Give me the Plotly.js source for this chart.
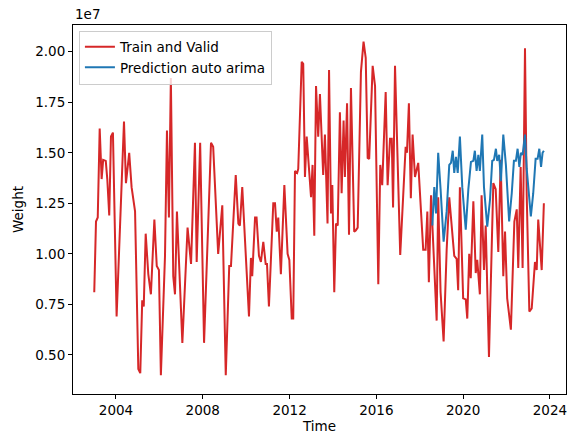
<!DOCTYPE html>
<html>
<head>
<meta charset="utf-8">
<script src="https://cdn.plot.ly/plotly-3.0.1.min.js"></script>
<style>html,body{margin:0;padding:0;background:#fff;}#chart{width:573px;height:435px;}</style>
</head>
<body>
<div id="chart"></div>
<script>
// Time in decimal years, Weight in units of 1e7
const trainTime = [2003.00,2003.08,2003.16,2003.25,2003.34,2003.41,2003.53,2003.60,2003.69,2003.77,2003.86,2004.03,2004.37,2004.46,2004.61,2004.72,2004.88,2005.03,2005.12,2005.21,2005.28,2005.37,2005.49,2005.61,2005.77,2005.88,2005.98,2006.07,2006.26,2006.35,2006.44,2006.53,2006.64,2006.72,2006.81,2007.06,2007.30,2007.46,2007.64,2007.72,2007.88,2008.06,2008.38,2008.48,2008.71,2008.90,2009.06,2009.22,2009.30,2009.52,2009.64,2009.71,2009.82,2010.13,2010.22,2010.28,2010.41,2010.48,2010.59,2010.68,2010.79,2010.90,2010.96,2011.05,2011.25,2011.33,2011.41,2011.48,2011.60,2011.76,2011.91,2011.99,2012.10,2012.17,2012.25,2012.35,2012.40,2012.56,2012.63,2012.71,2012.79,2012.86,2012.99,2013.06,2013.14,2013.22,2013.32,2013.40,2013.55,2013.63,2013.75,2013.82,2013.91,2013.97,2014.06,2014.14,2014.22,2014.32,2014.40,2014.49,2014.55,2014.65,2014.74,2014.83,2014.98,2015.05,2015.14,2015.29,2015.41,2015.51,2015.60,2015.67,2015.83,2015.94,2016.09,2016.18,2016.27,2016.43,2016.52,2016.63,2016.71,2016.77,2016.86,2017.10,2017.35,2017.41,2017.50,2017.59,2017.67,2017.78,2017.93,2018.16,2018.27,2018.35,2018.42,2018.52,2018.62,2018.78,2018.85,2018.96,2019.10,2019.24,2019.36,2019.47,2019.59,2019.70,2019.77,2019.85,2020.00,2020.12,2020.19,2020.28,2020.35,2020.47,2020.58,2020.65,2020.77,2020.85,2020.96,2021.04,2021.19,2021.39,2021.50,2021.62,2021.73,2021.85,2021.93,2022.03,2022.20,2022.36,2022.47,2022.54,2022.65,2022.74,2022.85,2022.93,2023.05,2023.16,2023.31,2023.39,2023.46,2023.62,2023.72];
const trainWeight = [0.81,1.16,1.18,1.62,1.37,1.465,1.46,1.37,1.19,1.58,1.60,0.69,1.654,1.35,1.50,1.33,1.21,0.43,0.41,0.77,0.74,1.10,0.90,0.80,1.17,0.94,0.92,0.40,0.99,1.61,1.18,1.87,0.89,0.80,1.21,0.56,1.13,0.95,1.55,0.96,1.55,0.56,1.55,1.53,1.00,1.24,0.40,0.94,0.94,1.39,1.15,1.14,1.33,0.69,0.98,0.89,1.18,1.18,0.99,0.96,1.06,0.95,0.95,0.74,1.25,1.25,1.11,1.18,0.90,1.34,1.00,0.97,0.68,0.68,1.41,1.40,1.42,1.95,1.94,1.38,1.58,1.47,1.28,1.44,1.09,1.83,1.58,1.79,1.39,1.59,1.15,1.91,1.20,1.34,0.81,1.15,1.14,1.70,1.30,1.66,1.38,1.745,1.095,1.82,1.11,1.115,1.13,1.90,2.05,1.97,1.475,1.47,1.93,1.83,0.85,1.44,1.34,1.80,1.34,1.57,1.57,1.23,1.93,0.995,1.53,1.50,1.745,1.275,1.59,1.38,1.45,1.02,1.02,1.21,0.86,1.29,1.03,0.67,1.28,0.81,0.567,1.02,1.28,1.12,0.99,0.975,0.82,1.33,0.78,0.775,0.68,1.00,0.88,1.26,0.905,0.97,0.80,1.29,0.92,1.14,0.49,1.35,1.32,1.01,1.465,0.89,1.11,0.78,0.625,1.16,1.22,0.93,1.43,0.93,2.017,1.29,0.715,0.73,0.96,0.92,1.17,0.92,1.25];

const predTime = [2018.58,2018.67,2018.75,2018.85,2018.96,2019.10,2019.24,2019.36,2019.44,2019.52,2019.59,2019.67,2019.75,2019.85,2019.96,2020.12,2020.24,2020.36,2020.47,2020.54,2020.62,2020.70,2020.77,2020.88,2020.96,2021.11,2021.24,2021.34,2021.42,2021.51,2021.57,2021.66,2021.74,2021.85,2021.97,2022.12,2022.24,2022.34,2022.43,2022.51,2022.59,2022.66,2022.74,2022.85,2022.93,2023.12,2023.23,2023.34,2023.43,2023.51,2023.59,2023.66,2023.72];
const predWeight = [1.14,1.33,1.20,1.50,1.32,1.06,1.21,1.44,1.45,1.51,1.40,1.48,1.40,1.58,1.33,1.12,1.32,1.455,1.46,1.51,1.41,1.49,1.41,1.59,1.33,1.135,1.27,1.46,1.465,1.52,1.46,1.49,1.36,1.59,1.44,1.16,1.30,1.46,1.46,1.52,1.43,1.50,1.49,1.59,1.42,1.185,1.30,1.47,1.47,1.52,1.43,1.50,1.51];

const xTicks = [2004,2008,2012,2016,2020,2024];
const yTicks = [0.50,0.75,1.00,1.25,1.50,1.75,2.00];

const FONT = 'DejaVu Sans, sans-serif';
const traces = [
  {x: trainTime, y: trainWeight, mode: 'lines', name: 'Train and Valid',
   line: {color: '#d62728', width: 2}},
  {x: predTime, y: predWeight, mode: 'lines', name: 'Prediction auto arima',
   line: {color: '#1f77b4', width: 2}}
];
const axisCommon = {
  showline: true, mirror: true, linecolor: '#000', linewidth: 1,
  ticks: 'outside', ticklen: 4, tickwidth: 1, tickcolor: '#000',
  showgrid: false, zeroline: false,
  tickfont: {family: FONT, size: 13.5, color: '#000'}
};
const layout = {
  width: 573, height: 435,
  margin: {l: 73, r: 7, t: 25, b: 41},
  paper_bgcolor: '#fff', plot_bgcolor: '#fff',
  font: {family: FONT, size: 13.5, color: '#000'},
  showlegend: true,
  legend: {x: 0.012, y: 0.985, xanchor: 'left', yanchor: 'top',
    bgcolor: 'rgba(255,255,255,0.8)', bordercolor: '#cccccc', borderwidth: 1,
    font: {family: FONT, size: 13.5, color: '#000'}, tracegroupgap: 0},
  xaxis: Object.assign({}, axisCommon, {
    range: [2002.02, 2024.74], tickvals: xTicks, ticktext: xTicks.map(String),
    title: {text: 'Time', font: {family: FONT, size: 13.5}, standoff: 4}
  }),
  yaxis: Object.assign({}, axisCommon, {
    range: [0.307, 2.132], tickvals: yTicks, ticktext: yTicks.map(v => v.toFixed(2)),
    title: {text: 'Weight', font: {family: FONT, size: 13.5}, standoff: 8}
  }),
  annotations: [{text: '1e7', xref: 'paper', yref: 'paper', x: 0, y: 1,
    xanchor: 'left', yanchor: 'bottom', showarrow: false, yshift: 1,
    font: {family: FONT, size: 13.5, color: '#000'}}]
};
Plotly.newPlot('chart', traces, layout, {displayModeBar: false, staticPlot: true});
</script>
</body>
</html>
